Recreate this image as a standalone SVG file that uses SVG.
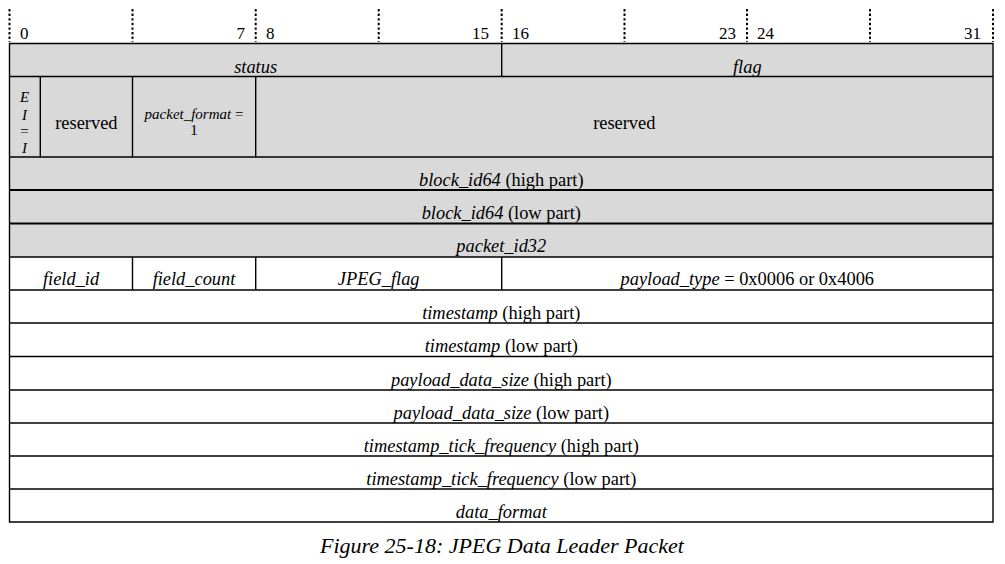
<svg xmlns="http://www.w3.org/2000/svg" width="1005" height="564" viewBox="0 0 1005 564" font-family="'Times New Roman', 'Liberation Serif', 'DejaVu Serif', serif">
<style>
text{font-family:"Times New Roman","Liberation Serif","DejaVu Serif",serif;font-size:18.4px;fill:#000}
.c{text-anchor:middle}
.r{text-anchor:end}
.i{font-style:italic}
.s{font-size:15px}
.h{font-size:17px}
.gray{fill:#d9d9d9;stroke:none}
.ln{stroke:#000;stroke-width:1.4;fill:none}
.thick{stroke:#000;stroke-width:2.2;fill:none}
.dot{stroke:#000;stroke-width:2;stroke-dasharray:2.4 2.2;fill:none}
</style>
<rect x="0" y="0" width="1005" height="564" fill="#fff"/>
<g id="ruler">
<path class="dot" d="M9.5 9V42M132.5 9V42M255.7 9V42M378.7 9V42M501.7 9V42M624.5 9V42M747 9V42M870 9V42M993 9V42"/>
<text class="h" x="20" y="39">0</text>
<text class="h r" x="245" y="39">7</text>
<text class="h" x="266" y="39">8</text>
<text class="h r" x="489" y="39">15</text>
<text class="h" x="512" y="39">16</text>
<text class="h r" x="736" y="39">23</text>
<text class="h" x="757" y="39">24</text>
<text class="h r" x="981" y="39">31</text>
</g>
<g id="backgrounds">
<rect class="gray" x="9.5" y="43.5" width="983.5" height="213.5"/>
</g>
<g id="connectors">
<path class="ln" d="M9.5 43.5H993V522H9.5Z"/>
<path class="ln" d="M9.5 76.5H993M9.5 157H993M9.5 257H993M9.5 290H993M9.5 323H993M9.5 356.5H993M9.5 390H993M9.5 423H993M9.5 456H993M9.5 489H993"/>
<path class="thick" d="M9.5 190H993M9.5 223.5H993"/>
<path class="ln" d="M501.7 43.5V76.5M40.3 76.5V157M132.5 76.5V157M255.7 76.5V157M132.5 257V290M255.7 257V290M501.7 257V290"/>
</g>
<g id="status"><text class="c i" x="255.6" y="73">status</text></g>
<g id="flag"><text class="c i" x="747.3" y="73">flag</text></g>
<g id="EI">
<text class="c i s" x="24.5" y="102">E</text>
<text class="c i s" x="24.5" y="120">I</text>
<text class="c s" x="24.5" y="136">=</text>
<text class="c i s" x="24.5" y="153">I</text>
</g>
<g id="reserved1"><text class="c" x="86.4" y="129">reserved</text></g>
<g id="packet_format">
<text class="c s" x="194" y="119"><tspan class="i">packet_format</tspan> =</text>
<text class="c s" x="194" y="135">1</text>
</g>
<g id="reserved2"><text class="c" x="624.3" y="129">reserved</text></g>
<g id="block_id64_high"><text class="c" x="501.3" y="185.5"><tspan class="i">block_id64</tspan> (high part)</text></g>
<g id="block_id64_low"><text class="c" x="501.3" y="218.5"><tspan class="i">block_id64</tspan> (low part)</text></g>
<g id="packet_id32"><text class="c i" x="501.3" y="251.5">packet_id32</text></g>
<g id="field_id"><text class="c i" x="71" y="285">field_id</text></g>
<g id="field_count"><text class="c i" x="194" y="285">field_count</text></g>
<g id="JPEG_flag"><text class="c i" x="378.7" y="285">JPEG_flag</text></g>
<g id="payload_type"><text class="c" x="747.3" y="285"><tspan class="i">payload_type</tspan> = 0x0006 or 0x4006</text></g>
<g id="timestamp_high"><text class="c" x="501.3" y="319">
<tspan class="i">timestamp</tspan> (high part)</text></g>
<g id="timestamp_low"><text class="c" x="501.3" y="352"><tspan class="i">timestamp</tspan> (low part)</text></g>
<g id="payload_data_size_high"><text class="c" x="501.3" y="385.5"><tspan class="i">payload_data_size</tspan> (high part)</text></g>
<g id="payload_data_size_low"><text class="c" x="501.3" y="418.5"><tspan class="i">payload_data_size</tspan> (low part)</text></g>
<g id="ttf_high"><text class="c" x="501.3" y="451.5"><tspan class="i">timestamp_tick_frequency</tspan> (high part)</text></g>
<g id="ttf_low"><text class="c" x="501.3" y="484.5"><tspan class="i">timestamp_tick_frequency</tspan> (low part)</text></g>
<g id="data_format"><text class="c i" x="501.3" y="517.5">data_format</text></g>
<g id="caption"><text class="c i" x="502" y="553" style="font-size:22px">Figure 25-18: JPEG Data Leader Packet</text></g>
</svg>
